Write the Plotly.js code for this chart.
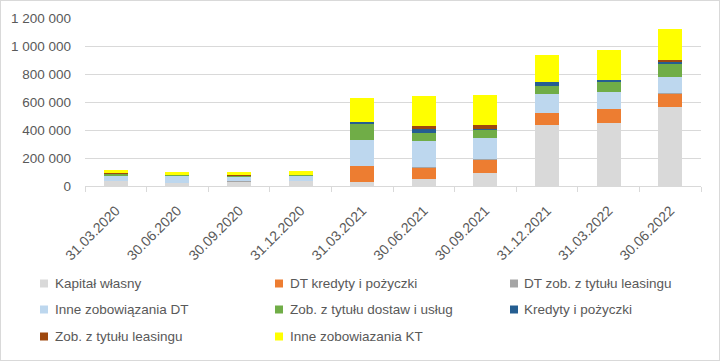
<!DOCTYPE html>
<html><head><meta charset="utf-8">
<script src="https://cdn.plot.ly/plotly-3.0.1.min.js"></script>
<style>html,body{margin:0;padding:0;background:#fff}#c{width:718px;height:359px;border:1px solid #d9d9d9}</style>
</head><body><div id="c"></div>
<script>
const categories = ["31.03.2020","30.06.2020","30.09.2020","31.12.2020","31.03.2021","30.06.2021","30.09.2021","31.12.2021","31.03.2022","30.06.2022"];
const kapitalWlasny   = [33000, 21000, 29000, 33000, 31000, 50000, 93000, 437000, 451000, 566000];
const dtKredyty       = [0, 0, 0, 5000, 115000, 81000, 96000, 81000, 96000, 93000];
const dtLeasing       = [5000, 0, 5000, 0, 0, 5000, 5000, 5000, 5000, 7000];
const inneDT          = [33000, 50000, 33000, 33000, 184000, 186000, 150000, 136000, 122000, 115000];
const zobDostaw       = [17000, 5000, 4000, 5000, 115000, 57000, 57000, 57000, 72000, 93000];
const kredyty         = [0, 0, 0, 5000, 14000, 26000, 5000, 29000, 14000, 14000];
const zobLeasing      = [5000, 5000, 10000, 0, 0, 24000, 31000, 0, 0, 14000];
const inneKT          = [21000, 19000, 19000, 26000, 172000, 215000, 215000, 193000, 215000, 222000];

const seriesNames = ["Kapitał własny","DT kredyty i pożyczki","DT zob. z tytułu leasingu","Inne zobowiązania DT","Zob. z tytułu dostaw i usług","Kredyty i pożyczki","Zob. z tytułu leasingu","Inne zobowiazania KT"];
const seriesValues = [kapitalWlasny, dtKredyty, dtLeasing, inneDT, zobDostaw, kredyty, zobLeasing, inneKT];
const seriesColors = ["#d9d9d9","#ed7d31","#a5a5a5","#bdd7ee","#70ad47","#255e91","#9e480e","#ffff00"];

const traces = seriesNames.map((n,i)=>({
  type:'bar', name:n, x:categories, y:seriesValues[i], showlegend:false,
  marker:{color:seriesColors[i], line:{width:0}}
}));

// legend drawn as a 3-column grid (page pixel positions)
const colMarker = [40, 275, 510];
const colText = [53, 288, 522];
const rowCenter = [283.5, 309.5, 336.5];
const plotL = 84, plotW = 616, plotBottom = 185, plotH = 168;
const px = X => (X - 1 - plotL) / plotW;
const py = Y => (plotBottom - (Y - 1)) / plotH;

const shapes = [], annotations = [];
seriesNames.forEach((n,i)=>{
  const c = i%3, r = Math.floor(i/3);
  const yc = rowCenter[r];
  shapes.push({type:'rect', xref:'paper', yref:'paper',
    x0:px(colMarker[c]), x1:px(colMarker[c]+8), y0:py(yc+4), y1:py(yc-4),
    fillcolor:seriesColors[i], line:{width:0}});
  annotations.push({xref:'paper', yref:'paper', x:px(colText[c]), y:py(yc),
    xanchor:'left', yanchor:'middle', showarrow:false, text:n,
    font:{size:13.5, color:'#595959'}});
});

const layout = {
  width:718, height:359,
  barmode:'stack', bargap:0.61,
  separators:', ',
  font:{family:'Liberation Sans, Arial, sans-serif', size:13, color:'#595959'},
  paper_bgcolor:'#fff', plot_bgcolor:'#fff',
  margin:{l:84, r:18, t:17, b:174},
  xaxis:{type:'category', tickangle:-45, tickfont:{size:14, color:'#595959'}, ticklabelstandoff:10,
    showline:true, linecolor:'#d9d9d9', linewidth:1, ticks:'outside', ticklen:5, tickcolor:'#d9d9d9',
    tickson:'boundaries', showgrid:false, fixedrange:true, automargin:false},
  yaxis:{range:[0,1200000], dtick:200000, tickformat:',d', showgrid:true, gridcolor:'#d9d9d9', gridwidth:1,
    zeroline:false, showline:false, ticks:'', ticklabelstandoff:13, automargin:false,
    tickfont:{size:13.5, color:'#595959'}},
  showlegend:false,
  shapes:shapes, annotations:annotations
};
Plotly.newPlot('c', traces, layout, {displayModeBar:false, staticPlot:true});
</script></body></html>
